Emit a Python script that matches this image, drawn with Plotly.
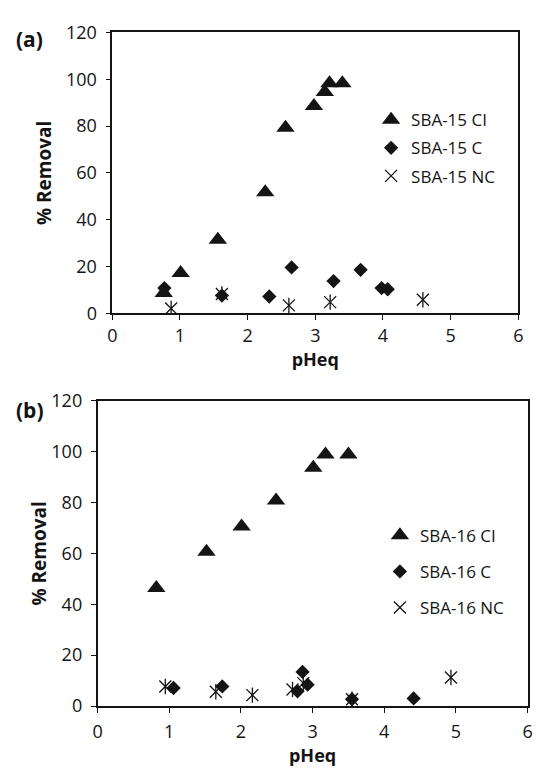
import plotly.graph_objects as go

# ---- Panel (a): SBA-15 ----
a_ci_x = [0.76, 1.01, 1.56, 2.26, 2.56, 2.98, 3.14, 3.21, 3.40]
a_ci_y = [8.7, 17.2, 31.4, 51.7, 79.3, 88.6, 94.5, 98.3, 98.3]
a_c_x = [0.77, 1.62, 2.32, 2.65, 3.27, 3.67, 3.98, 4.07]
a_c_y = [10.8, 7.6, 7.2, 19.6, 13.8, 18.6, 10.8, 10.3]
a_nc_x = [0.87, 1.62, 2.61, 3.22, 4.59]
a_nc_y = [2.1, 8.3, 3.4, 4.8, 5.8]

# ---- Panel (b): SBA-16 ----
b_ci_x = [0.82, 1.52, 2.01, 2.49, 3.01, 3.18, 3.50]
b_ci_y = [46.4, 60.6, 70.5, 80.7, 93.6, 98.8, 98.8]
b_c_x = [1.06, 1.74, 2.79, 2.86, 2.93, 3.55, 4.41]
b_c_y = [7.1, 7.7, 5.8, 13.4, 8.4, 2.7, 3.0]
b_nc_x = [0.945, 1.65, 2.16, 2.72, 2.87, 3.55, 4.93]
b_nc_y = [7.7, 5.6, 4.3, 6.5, 9.0, 2.7, 11.2]

names_a = ["SBA-15 CI", "SBA-15 C", "SBA-15 NC"]
names_b = ["SBA-16 CI", "SBA-16 C", "SBA-16 NC"]

x_ticks = [0, 1, 2, 3, 4, 5, 6]
y_ticks = [0, 20, 40, 60, 80, 100, 120]

INK = "#141414"
FONT = "Open Sans"

fig = go.Figure()

def add_panel(xa, ya, leg, names, ci, c, nc):
    fig.add_trace(go.Scatter(x=ci[0], y=ci[1], mode="markers", name=names[0],
                             xaxis=xa, yaxis=ya, legend=leg, legendgroup=leg + "ci",
                             marker=dict(symbol="triangle-up", size=16, color=INK)))
    fig.add_trace(go.Scatter(x=c[0], y=c[1], mode="markers", name=names[1],
                             xaxis=xa, yaxis=ya, legend=leg, legendgroup=leg + "c",
                             marker=dict(symbol="diamond", size=11, color=INK)))
    fig.add_trace(go.Scatter(x=nc[0], y=nc[1], mode="markers", name=names[2],
                             xaxis=xa, yaxis=ya, legend=leg, legendgroup=leg + "nc",
                             marker=dict(symbol="x-thin-open", size=12, color=INK,
                                         line=dict(color=INK, width=1.3))))
    fig.add_trace(go.Scatter(x=nc[0], y=nc[1], mode="markers", showlegend=False,
                             xaxis=xa, yaxis=ya, legendgroup=leg + "nc",
                             marker=dict(symbol="line-ns-open", size=11, color=INK,
                                         line=dict(color=INK, width=1.3))))

add_panel("x", "y", "legend", names_a, (a_ci_x, a_ci_y), (a_c_x, a_c_y), (a_nc_x, a_nc_y))
add_panel("x2", "y2", "legend2", names_b, (b_ci_x, b_ci_y), (b_c_x, b_c_y), (b_nc_x, b_nc_y))

W, H = 539, 772

def axis_common():
    return dict(showline=True, linecolor=INK, linewidth=1.5, mirror=True,
                ticks="outside", ticklen=5, tickwidth=1.3, tickcolor=INK,
                showgrid=False, zeroline=False,
                tickfont=dict(family=FONT, size=18, color=INK))

XT = dict(family=FONT, size=18, color=INK)
YT = dict(family=FONT, size=19, color=INK)

xa = axis_common(); xa.update(domain=[109.3 / W, 523 / W], range=[0, 6], tickvals=x_ticks,
                              title=dict(text="<b>pHeq</b>", font=XT, standoff=0), anchor="y")
ya = axis_common(); ya.update(domain=[1 - 310 / H, 1 - 20 / H], range=[0, 120], tickvals=y_ticks,
                              ticklabelstandoff=5,
                              title=dict(text="<b>% Removal</b>", font=YT, standoff=9), anchor="x")
xb = axis_common(); xb.update(domain=[94.3 / W, 532.5 / W], range=[0, 6], tickvals=x_ticks,
                              ticklabelstandoff=4,
                              title=dict(text="<b>pHeq</b>", font=XT, standoff=0), anchor="y2")
yb = axis_common(); yb.update(domain=[1 - 715.3 / H, 1 - 400 / H], range=[0, 120], tickvals=y_ticks,
                              ticklabelstandoff=5,
                              title=dict(text="<b>% Removal</b>", font=YT, standoff=0), anchor="x2")

fig.update_layout(
    width=W, height=H, margin=dict(l=0, r=0, t=0, b=0),
    paper_bgcolor="white", plot_bgcolor="white",
    xaxis=xa, yaxis=ya, xaxis2=xb, yaxis2=yb,
    legend=dict(x=373 / W, y=1 - 92 / H, xanchor="left", yanchor="top",
                font=dict(family=FONT, size=17, color=INK), tracegroupgap=3,
                traceorder="grouped", bgcolor="rgba(0,0,0,0)", itemsizing="trace"),
    legend2=dict(x=382 / W, y=1 - 521 / H, xanchor="left", yanchor="top",
                 font=dict(family=FONT, size=17, color=INK), tracegroupgap=11,
                 traceorder="grouped", bgcolor="rgba(0,0,0,0)", itemsizing="trace"),
    annotations=[
        dict(text="<b>(a)</b>", x=9 / W, y=1 - 27 / H, xref="paper", yref="paper",
             xanchor="left", yanchor="middle", showarrow=False,
             font=dict(family=FONT, size=21, color=INK)),
        dict(text="<b>(b)</b>", x=9 / W, y=1 - 410 / H, xref="paper", yref="paper",
             xanchor="left", yanchor="middle", showarrow=False,
             font=dict(family=FONT, size=21, color=INK)),
    ],
)

fig.write_html("out.html")
